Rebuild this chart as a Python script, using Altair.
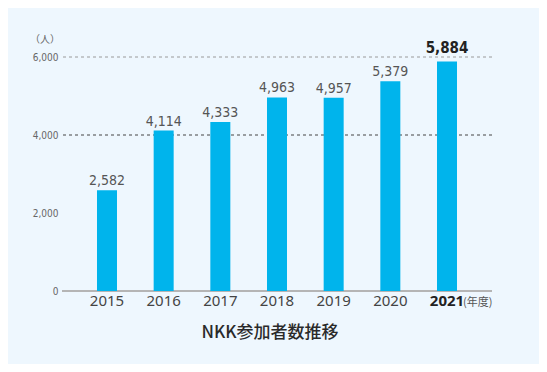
import altair as alt
import pandas as pd

years = ["2015", "2016", "2017", "2018", "2019", "2020", "2021"]
values = [2582, 4114, 4333, 4963, 4957, 5379, 5884]
value_labels = ["2,582", "4,114", "4,333", "4,963", "4,957", "5,379", "5,884"]
grid_values = [4000, 6000]
grid_colors = ["#444444", "#9a9a9a"]
y_ticks = [0, 2000, 4000, 6000]

df = pd.DataFrame({"year": years, "value": values, "label": value_labels,
                   "last": [y == "2021" for y in years]})
grid_df = pd.DataFrame({"v": grid_values, "c": grid_colors})

W, H = 430, 234
xscale = alt.Scale(domain=years, paddingInner=0.647, paddingOuter=0.6175)
yscale = alt.Scale(domain=[0, 6000], nice=False)
num_font = "'DejaVu Sans Condensed', 'Roboto Condensed', 'Liberation Sans Narrow', Roboto, sans-serif"

base = alt.Chart(df)

bars = base.mark_bar(color="#00b4ec").encode(
    x=alt.X("year:N", scale=xscale, axis=None, sort=years),
    y=alt.Y("value:Q", scale=yscale,
            axis=alt.Axis(values=y_ticks, format=",d", title=None, grid=False,
                          domain=False, ticks=False, labelPadding=4,
                          labelFont=num_font, labelFontSize=10,
                          labelColor="#666666")),
)

grid = alt.Chart(grid_df).mark_rule(strokeDash=[3, 3], strokeWidth=1).encode(
    y=alt.Y("v:Q", scale=yscale),
    color=alt.Color("c:N", scale=None),
)

zero = alt.Chart(df).mark_rule(color="#b5b5b5", strokeWidth=2).encode(
    y=alt.datum(0), x=alt.value(0), x2=alt.value(W)
)

labels_norm = base.transform_filter("!datum.last").mark_text(
    baseline="bottom", dy=-2, font=num_font, fontSize=14, color="#555555"
).encode(x=alt.X("year:N", scale=xscale, sort=years), y=alt.Y("value:Q", scale=yscale), text="label:N")

labels_last = base.transform_filter("datum.last").mark_text(
    baseline="bottom", dy=-6, font=num_font, fontSize=15, fontWeight="bold", color="#222222"
).encode(x=alt.X("year:N", scale=xscale, sort=years), y=alt.Y("value:Q", scale=yscale), text="label:N")

year_norm = base.transform_filter("!datum.last").mark_text(
    baseline="top", font="Noto Sans", fontSize=15, color="#444444"
).encode(x=alt.X("year:N", scale=xscale, sort=years), y=alt.value(H + 3), text="year:N")

year_last = base.transform_filter("datum.last").mark_text(
    baseline="top", font="Noto Sans", fontSize=15, fontWeight="bold", color="#222222"
).encode(x=alt.X("year:N", scale=xscale, sort=years), y=alt.value(H + 3), text="year:N")

nendo = alt.Chart(pd.DataFrame({"t": ["(年度)"]})).mark_text(
    align="left", baseline="top", font="Noto Sans CJK JP", fontSize=11, color="#555555"
).encode(x=alt.value(401), y=alt.value(H + 6), text="t:N")

unit = alt.Chart(pd.DataFrame({"t": ["（人）"]})).mark_text(
    align="right", baseline="middle", font="Noto Sans CJK JP", fontSize=10, color="#666666"
).encode(x=alt.value(-2), y=alt.value(-17), text="t:N")

title = alt.Chart(pd.DataFrame({"t": ["NKK参加者数推移"]})).mark_text(
    align="center", baseline="middle", font="Noto Sans CJK JP", fontSize=17,
    fontWeight=500, color="#2a2a2a"
).encode(x=alt.value(208), y=alt.value(276), text="t:N")

chart = alt.layer(grid, zero, bars, labels_norm, labels_last, year_norm, year_last,
                  nendo, unit, title).properties(
    width=W, height=H,
    autosize=alt.AutoSizeParams(type="none"),
    padding={"left": 54, "top": 49, "right": 47, "bottom": 73},
    background="#eef7fe",
).configure_view(stroke=None)

chart.save("out.html", embed_options={"renderer": "svg", "actions": False})
